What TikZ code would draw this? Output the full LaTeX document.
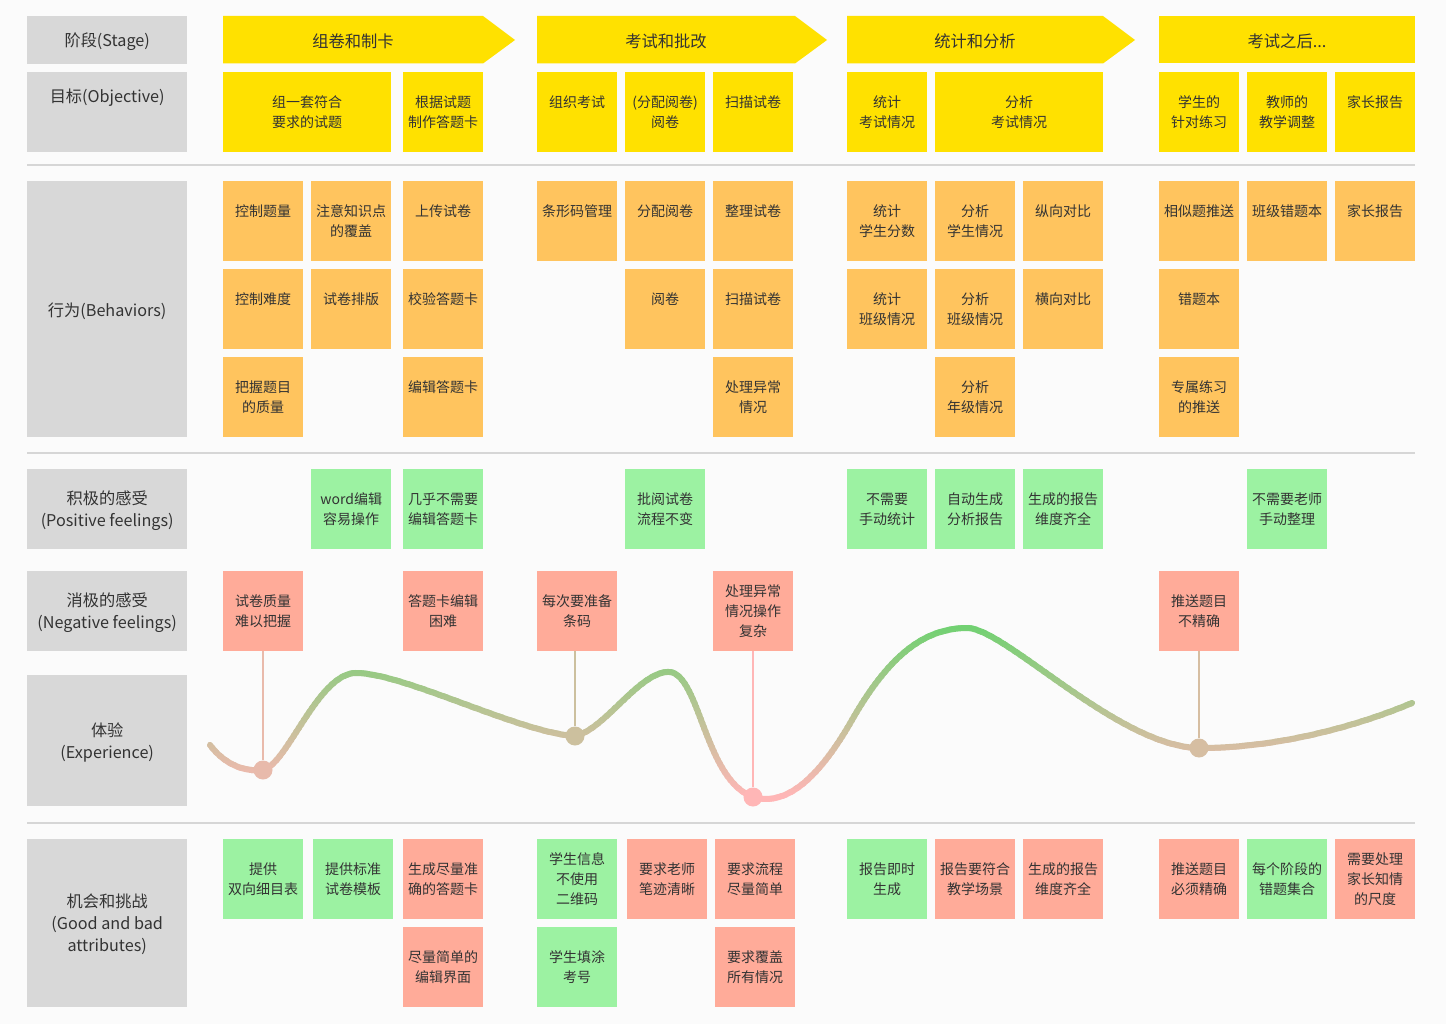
\documentclass[tikz,border=0pt]{standalone}
\usepackage{fontspec}
\setmainfont{Noto Sans CJK SC}
\usetikzlibrary{calc}
\definecolor{bg}{HTML}{FBFBFB}
\definecolor{graybox}{HTML}{D8D8D8}
\definecolor{yel}{HTML}{FFE100}
\definecolor{org}{HTML}{FFC45E}
\definecolor{grn}{HTML}{9CF2A2}
\definecolor{red}{HTML}{FFAB99}
\definecolor{txt}{HTML}{333333}
\definecolor{sepc}{HTML}{D6D6D6}
\definecolor{cgreen}{HTML}{72D172}
\definecolor{cpink}{HTML}{FFB6B6}
\newcommand\crd[5]{\node[card,fill=#4] (#1) at (#2,#3) {#5};}
\newcommand\lbl[5]{\node[lab,minimum height=#3] (#1) at (27,#2) {};
  \node[labtxt] (#1t) at ($(#1.north)+(0,#4)$) {#5};}
\newcommand\ph{\\\phantom{控}}
\begin{document}
\begin{tikzpicture}[x=1pt,y=-1pt,
  lab/.style={fill=graybox,inner sep=0,anchor=north west,minimum width=160},
  labtxt/.style={text=txt,inner sep=0,align=center,font=\fontsize{16.2}{22}\selectfont},
  card/.style={inner sep=0,anchor=north west,minimum width=80,minimum height=80,align=center,text=txt,font=\fontsize{14}{20}\selectfont},
  stagetxt/.style={text=txt,inner sep=0,font=\fontsize{16.3}{20}\selectfont},
  sepline/.style={draw=sepc,line width=2},
  conn/.style={line width=1.5},
  dotn/.style={circle,inner sep=0,minimum size=19},
  expcurve/.style={insert path={(210,745) .. controls (225,765) and (245,772) .. (263,770) .. controls (287,765) and (318,673) .. (356,673) .. controls (404,673) and (520,733) .. (575,736) .. controls (605,730) and (640,670) .. (670,672) .. controls (700,676) and (705,780) .. (753,797) .. controls (780,805) and (812,790) .. (852,720) .. controls (892,650) and (928,628) .. (968,628) .. controls (1007,630) and (1120,748) .. (1200,748) .. controls (1280,748) and (1360,725) .. (1412,703)}}
]
\fill[bg] (0,0) rectangle (1446,1024);
\useasboundingbox (0,0) rectangle (1446,1024);

% left labels
\lbl{stageL}{16}{47.5}{25.5}{阶段(Stage)}
\lbl{objL}{72}{79.5}{25.5}{目标(Objective)}
\lbl{behL}{181}{255.5}{130}{行为(Behaviors)}
\lbl{posL}{469}{79.5}{42}{积极的感受\\(Positive feelings)}
\lbl{negL}{571}{79.5}{42}{消极的感受\\(Negative feelings)}
\lbl{expL}{675}{131}{67.5}{体验\\(Experience)}
\lbl{oppL}{839}{167.5}{85.5}{机会和挑战\\(Good and bad\\attributes)}

% separators
\draw[sepline] (27,165.5) -- (1415,165.5);
\draw[sepline] (27,452.5) -- (1415,452.5);
\draw[sepline] (27,822.5) -- (1415,822.5);

% stages
\fill[yel] (223,16) -- (483,16) -- (515,40) -- (483,63.5) -- (223,63.5) -- cycle;
\node[stagetxt] (s1) at (353,41) {组卷和制卡};
\fill[yel] (537,16) -- (795,16) -- (827,40) -- (795,63.5) -- (537,63.5) -- cycle;
\node[stagetxt] (s2) at (666,41) {考试和批改};
\fill[yel] (847,16) -- (1103,16) -- (1135,40) -- (1103,63.5) -- (847,63.5) -- cycle;
\node[stagetxt] (s3) at (975,41) {统计和分析};
\fill[yel] (1159,16) rectangle (1415,63.5);
\node[stagetxt] (s4) at (1287,41) {考试之后...};

% objectives
\node[card,fill=yel,minimum width=168] (o1) at (223,72) {组一套符合\\要求的试题};
\crd{o2}{403}{72}{yel}{根据试题\\制作答题卡}
\crd{o3}{537}{72}{yel}{组织考试\ph}
\crd{o4}{625}{72}{yel}{(分配阅卷)\\阅卷}
\crd{o5}{713}{72}{yel}{扫描试卷\ph}
\crd{o6}{847}{72}{yel}{统计\\考试情况}
\node[card,fill=yel,minimum width=168] (o7) at (935,72) {分析\\考试情况};
\crd{o8}{1159}{72}{yel}{学生的\\针对练习}
\crd{o9}{1247}{72}{yel}{教师的\\教学调整}
\crd{o10}{1335}{72}{yel}{家长报告\ph}

% behaviors row 1
\crd{b11}{223}{181}{org}{控制题量\ph}
\crd{b12}{311}{181}{org}{注意知识点\\的覆盖}
\crd{b13}{403}{181}{org}{上传试卷\ph}
\crd{b14}{537}{181}{org}{条形码管理\ph}
\crd{b15}{625}{181}{org}{分配阅卷\ph}
\crd{b16}{713}{181}{org}{整理试卷\ph}
\crd{b17}{847}{181}{org}{统计\\学生分数}
\crd{b18}{935}{181}{org}{分析\\学生情况}
\crd{b19}{1023}{181}{org}{纵向对比\ph}
\crd{b110}{1159}{181}{org}{相似题推送\ph}
\crd{b111}{1247}{181}{org}{班级错题本\ph}
\crd{b112}{1335}{181}{org}{家长报告\ph}
% row 2
\crd{b21}{223}{269}{org}{控制难度\ph}
\crd{b22}{311}{269}{org}{试卷排版\ph}
\crd{b23}{403}{269}{org}{校验答题卡\ph}
\crd{b24}{625}{269}{org}{阅卷\ph}
\crd{b25}{713}{269}{org}{扫描试卷\ph}
\crd{b26}{847}{269}{org}{统计\\班级情况}
\crd{b27}{935}{269}{org}{分析\\班级情况}
\crd{b28}{1023}{269}{org}{横向对比\ph}
\crd{b29}{1159}{269}{org}{错题本\ph}
% row 3
\crd{b31}{223}{357}{org}{把握题目\\的质量}
\crd{b32}{403}{357}{org}{编辑答题卡\ph}
\crd{b33}{713}{357}{org}{处理异常\\情况}
\crd{b34}{935}{357}{org}{分析\\年级情况}
\crd{b35}{1159}{357}{org}{专属练习\\的推送}

% positive
\crd{p1}{311}{469}{grn}{word编辑\\容易操作}
\crd{p2}{403}{469}{grn}{几乎不需要\\编辑答题卡}
\crd{p3}{625}{469}{grn}{批阅试卷\\流程不变}
\crd{p4}{847}{469}{grn}{不需要\\手动统计}
\crd{p5}{935}{469}{grn}{自动生成\\分析报告}
\crd{p6}{1023}{469}{grn}{生成的报告\\维度齐全}
\crd{p7}{1247}{469}{grn}{不需要老师\\手动整理}

% negative
\crd{n1}{223}{571}{red}{试卷质量\\难以把握}
\crd{n2}{403}{571}{red}{答题卡编辑\\困难}
\crd{n3}{537}{571}{red}{每次要准备\\条码}
\crd{n4}{713}{571}{red}{处理异常\\情况操作\\复杂}
\crd{n5}{1159}{571}{red}{推送题目\\不精确}

% opportunities row 1
\crd{c1}{223}{839}{grn}{提供\\双向细目表}
\crd{c2}{313}{839}{grn}{提供标准\\试卷模板}
\crd{c3}{403}{839}{red}{生成尽量准\\确的答题卡}
\crd{c4}{537}{839}{grn}{学生信息\\不使用\\二维码}
\crd{c5}{627}{839}{red}{要求老师\\笔迹清晰}
\crd{c6}{715}{839}{red}{要求流程\\尽量简单}
\crd{c7}{847}{839}{grn}{报告即时\\生成}
\crd{c8}{935}{839}{red}{报告要符合\\教学场景}
\crd{c9}{1023}{839}{red}{生成的报告\\维度齐全}
\crd{c10}{1159}{839}{red}{推送题目\\必须精确}
\crd{c11}{1247}{839}{grn}{每个阶段的\\错题集合}
\crd{c12}{1335}{839}{red}{需要处理\\家长知情\\的尺度}
% row 2
\crd{c13}{403}{927}{red}{尽量简单的\\编辑界面}
\crd{c14}{537}{927}{grn}{学生填涂\\考号}
\crd{c15}{715}{927}{red}{要求覆盖\\所有情况}

% experience curve with vertical gradient
\foreach \i in {0,...,47} {
  \pgfmathsetmacro\ya{618+\i*4}
  \pgfmathsetmacro\pc{max(0,min(100,(\ya+2-628)/169*100))}
  \begin{scope}
    \clip (0,\ya-0.3) rectangle (1446,\ya+4.3);
    \draw[line width=6,line cap=round,color=cpink!\pc!cgreen,expcurve];
  \end{scope}
}

% dots
\node[dotn,fill=cpink!84!cgreen] (d1) at (263,770) {};
\node[dotn,fill=cpink!64!cgreen] (d2) at (575,736) {};
\node[dotn,fill=cpink!100!cgreen] (d3) at (753,797) {};
\node[dotn,fill=cpink!71!cgreen] (d4) at (1199,748) {};

% connectors
\draw[conn,cpink!84!cgreen] (d1 |- n1.south) -- (d1);
\draw[conn,cpink!64!cgreen] (d2 |- n3.south) -- (d2);
\draw[conn,cpink!100!cgreen] (d3 |- n4.south) -- (d3);
\draw[conn,cpink!71!cgreen] (d4 |- n5.south) -- (d4);
\end{tikzpicture}
\end{document}
